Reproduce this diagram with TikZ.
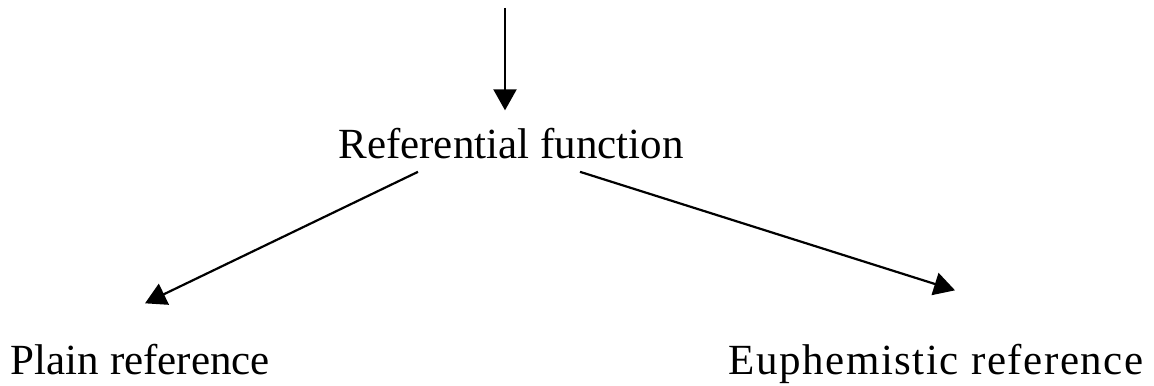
\documentclass[tikz,border=0pt]{standalone}
\usepackage{fontspec}
\setmainfont{Liberation Serif}
\usepackage{tikz}
\usetikzlibrary{arrows.meta, calc, positioning}
\tikzset{mylabel/.style = {inner sep=0pt, anchor=base, font=\fontsize{21.5}{24}\selectfont},
	myarrow/.style = {line width=1.1pt, -{Triangle[length=10.5pt,width=11.5pt]}}}
\begin{document}
\begin{tikzpicture}[x=0.5pt,y=-0.5pt]
\useasboundingbox (0,0) rectangle (1154,385);
\node[mylabel] (func) at (511,158) {Referential function};
\node[mylabel] (plain) at (140.5,374) {Plain reference};
\node[mylabel] (euph) at (936,374) {\addfontfeatures{LetterSpace=3.6}Euphemistic reference};
\coordinate (top) at (505,8);
\draw[myarrow] (top) -- ($(func.north)+(-6,-17)$);
\draw[myarrow] ($(func.south)+(-93,13)$) -- ($(plain.north)+(4.5,-40)$);
\draw[myarrow] ($(func.south)+(69,13)$) -- ($(euph.north)+(19,-53)$);
\end{tikzpicture}
\end{document}
